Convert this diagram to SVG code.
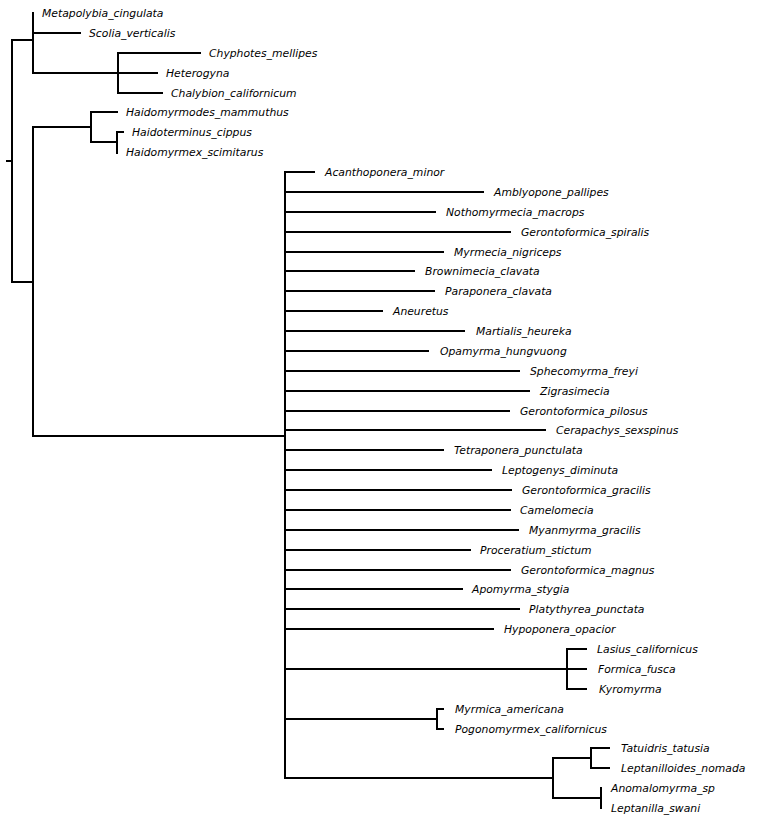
<svg xmlns="http://www.w3.org/2000/svg" width="783" height="821" viewBox="0 0 783 821">
<style>
.e{fill:none;stroke:#000;stroke-width:2;stroke-linecap:square}
text{font-family:"DejaVu Sans","Liberation Sans",sans-serif;font-style:italic;font-size:10.8px;fill:#000}
</style>
<rect width="783" height="821" fill="#fff"/>
<g id="connectors" class="e">
<path d="M7 161H12M12 40V282M12 40H33M12 282H33"/>
<path d="M33 13V73M33 33H80M33 73H118M118 53V93M118 53H200M118 73H157M118 93H162"/>
<path d="M33 127V436M33 127H91M91 112V142M91 112H117M91 142H117M117 132V153M117 132H123"/>
<path d="M33 436H285M285 172V778"/>
<path d="M285 172H314M285 192H483M285 212H435M285 232H510M285 252H443M285 271H414M285 291H434M285 311H382M285 331H464M285 351H428M285 371H519M285 391H529M285 411H509M285 430H545M285 450H443M285 470H491M285 490H511M285 510H510M285 530H518M285 550H470M285 570H510M285 589H462M285 609H519M285 629H493"/>
<path d="M285 669H567M567 649V689M567 649H586M567 669H586M567 689H586"/>
<path d="M285 719H437M437 709V729M437 709H443M437 729H443"/>
<path d="M285 778H553M553 758V798M553 758H591M591 748V768M591 748H609M591 768H609M553 798H601M601 788V808"/>
</g>
<g id="n-Metapolybia_cingulata"><text x="42" y="17">Metapolybia_cingulata</text></g>
<g id="n-Scolia_verticalis"><text x="89" y="37">Scolia_verticalis</text></g>
<g id="n-Chyphotes_mellipes"><text x="209" y="57">Chyphotes_mellipes</text></g>
<g id="n-Heterogyna"><text x="166" y="77">Heterogyna</text></g>
<g id="n-Chalybion_californicum"><text x="171" y="97">Chalybion_californicum</text></g>
<g id="n-Haidomyrmodes_mammuthus"><text x="126" y="116">Haidomyrmodes_mammuthus</text></g>
<g id="n-Haidoterminus_cippus"><text x="132" y="136">Haidoterminus_cippus</text></g>
<g id="n-Haidomyrmex_scimitarus"><text x="126" y="156">Haidomyrmex_scimitarus</text></g>
<g id="n-Acanthoponera_minor"><text x="325" y="176">Acanthoponera_minor</text></g>
<g id="n-Amblyopone_pallipes"><text x="494" y="196">Amblyopone_pallipes</text></g>
<g id="n-Nothomyrmecia_macrops"><text x="446" y="216">Nothomyrmecia_macrops</text></g>
<g id="n-Gerontoformica_spiralis"><text x="521" y="236">Gerontoformica_spiralis</text></g>
<g id="n-Myrmecia_nigriceps"><text x="454" y="256">Myrmecia_nigriceps</text></g>
<g id="n-Brownimecia_clavata"><text x="425" y="275">Brownimecia_clavata</text></g>
<g id="n-Paraponera_clavata"><text x="445" y="295">Paraponera_clavata</text></g>
<g id="n-Aneuretus"><text x="393" y="315">Aneuretus</text></g>
<g id="n-Martialis_heureka"><text x="476" y="335">Martialis_heureka</text></g>
<g id="n-Opamyrma_hungvuong"><text x="440" y="355">Opamyrma_hungvuong</text></g>
<g id="n-Sphecomyrma_freyi"><text x="530" y="375">Sphecomyrma_freyi</text></g>
<g id="n-Zigrasimecia"><text x="540" y="395">Zigrasimecia</text></g>
<g id="n-Gerontoformica_pilosus"><text x="520" y="415">Gerontoformica_pilosus</text></g>
<g id="n-Cerapachys_sexspinus"><text x="556" y="434">Cerapachys_sexspinus</text></g>
<g id="n-Tetraponera_punctulata"><text x="454" y="454">Tetraponera_punctulata</text></g>
<g id="n-Leptogenys_diminuta"><text x="502" y="474">Leptogenys_diminuta</text></g>
<g id="n-Gerontoformica_gracilis"><text x="522" y="494">Gerontoformica_gracilis</text></g>
<g id="n-Camelomecia"><text x="520" y="514">Camelomecia</text></g>
<g id="n-Myanmyrma_gracilis"><text x="529" y="534">Myanmyrma_gracilis</text></g>
<g id="n-Proceratium_stictum"><text x="480" y="554">Proceratium_stictum</text></g>
<g id="n-Gerontoformica_magnus"><text x="521" y="574">Gerontoformica_magnus</text></g>
<g id="n-Apomyrma_stygia"><text x="472" y="593">Apomyrma_stygia</text></g>
<g id="n-Platythyrea_punctata"><text x="529" y="613">Platythyrea_punctata</text></g>
<g id="n-Hypoponera_opacior"><text x="504" y="633">Hypoponera_opacior</text></g>
<g id="n-Lasius_californicus"><text x="597" y="653">Lasius_californicus</text></g>
<g id="n-Formica_fusca"><text x="598" y="673">Formica_fusca</text></g>
<g id="n-Kyromyrma"><text x="599" y="693">Kyromyrma</text></g>
<g id="n-Myrmica_americana"><text x="455" y="713">Myrmica_americana</text></g>
<g id="n-Pogonomyrmex_californicus"><text x="455" y="733">Pogonomyrmex_californicus</text></g>
<g id="n-Tatuidris_tatusia"><text x="621" y="752">Tatuidris_tatusia</text></g>
<g id="n-Leptanilloides_nomada"><text x="621" y="772">Leptanilloides_nomada</text></g>
<g id="n-Anomalomyrma_sp"><text x="611" y="792">Anomalomyrma_sp</text></g>
<g id="n-Leptanilla_swani"><text x="611" y="812">Leptanilla_swani</text></g>
</svg>
